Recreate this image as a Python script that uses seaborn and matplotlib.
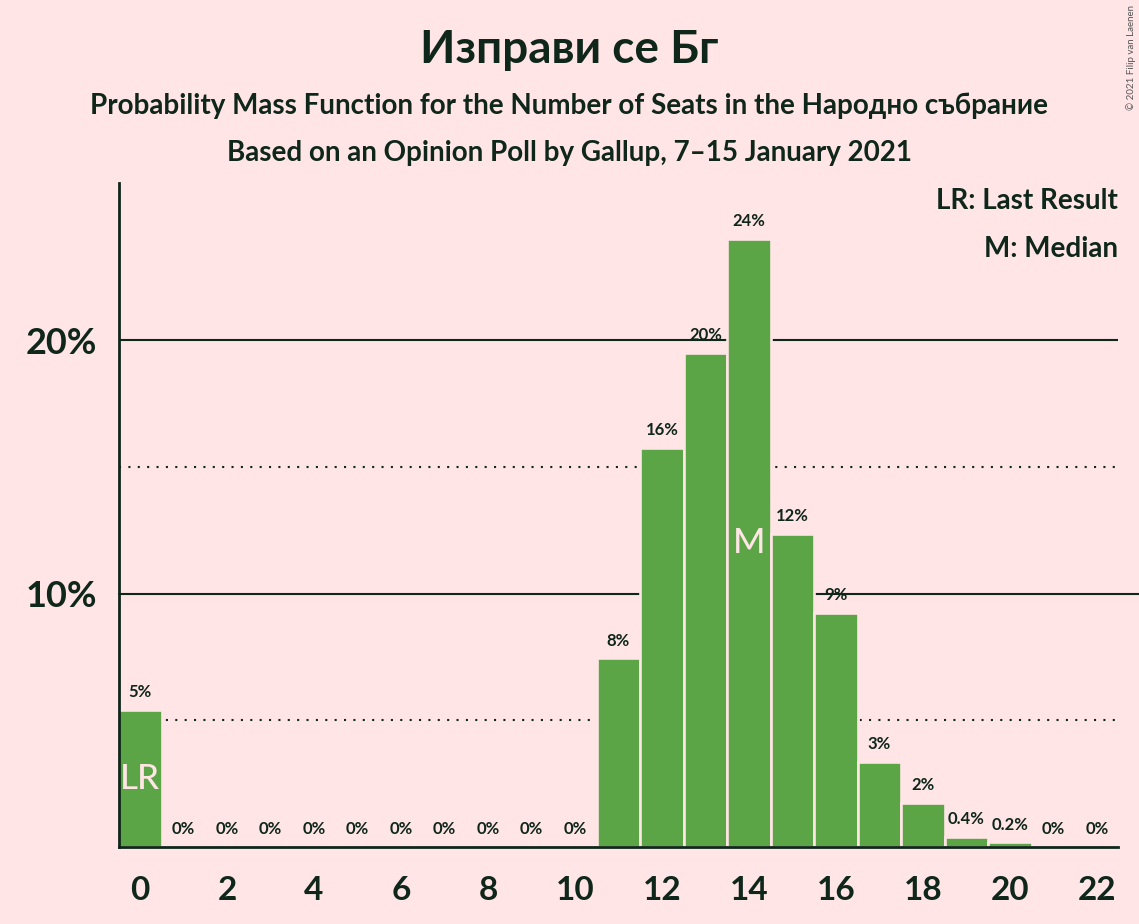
import numpy as np
import pandas as pd
import matplotlib
matplotlib.use("Agg")
import matplotlib.pyplot as plt
import seaborn as sns

# Seat distribution
seats = list(range(0, 23))
probability = [5.4, 0, 0, 0, 0, 0, 0, 0, 0, 0, 0,
               7.45, 15.75, 19.5, 24.0, 12.35, 9.25, 3.35, 1.75, 0.4, 0.18, 0, 0]
bar_labels = ["5%", "0%", "0%", "0%", "0%", "0%", "0%", "0%", "0%", "0%", "0%",
              "8%", "16%", "20%", "24%", "12%", "9%", "3%", "2%", "0.4%", "0.2%", "0%", "0%"]
last_result = 0
median = 14

title = "Изправи се Бг"
subtitle1 = "Probability Mass Function for the Number of Seats in the Народно събрание"
subtitle2 = "Based on an Opinion Poll by Gallup, 7–15 January 2021"

bg = "#FFE5E5"
green = "#5BA547"
dark = "#0F261A"

sns.set_style("white")
plt.rcParams['font.family'] = ['Lato', 'DejaVu Sans']

df = pd.DataFrame({'seats': seats, 'probability': probability})

fig = plt.figure(figsize=(11.39, 9.24), dpi=100, facecolor=bg)
ax = fig.add_axes([0.1045, 0.0833, 0.877, 0.7186])
ax.set_facecolor(bg)

# grid lines (behind the bars)
ax.axhline(10, color=dark, lw=1.5, zorder=0, xmax=1.021, clip_on=False)
ax.axhline(20, color=dark, lw=1.5, zorder=0)
for y in [5, 15]:
    ax.axhline(y, color=dark, lw=1.5, ls=(0, (1, 3.5)), zorder=0)

# full-width bars with a thick background-coloured edge, so the gaps hide the grid
sns.barplot(data=df, x='seats', y='probability', color=green, saturation=1,
            width=1.0, edgecolor=bg, linewidth=1.9, ax=ax, zorder=2)

ax.bar_label(ax.containers[0], labels=bar_labels, padding=7, fontsize=12,
             fontweight='bold', color=dark)

ax.text(last_result, probability[last_result] / 2, "LR", ha='center', va='center',
        fontsize=25, fontweight='medium', color=bg, zorder=3)
ax.text(median, probability[median] / 2, "M", ha='center', va='center',
        fontsize=25, fontweight='medium', color=bg, zorder=3)

ax.set_xlim(-0.48, 22.48)
ax.set_ylim(0, 26.2)
ax.set_xticks(range(0, 23, 2))
ax.set_xticklabels([str(s) for s in range(0, 23, 2)])
ax.set_yticks([10, 20])
ax.set_yticklabels(["10%", "20%"])
ax.tick_params(axis='x', labelsize=24, length=0, pad=21, colors=dark)
ax.tick_params(axis='y', labelsize=26, length=0, pad=16, colors=dark)
for lab in ax.get_xticklabels() + ax.get_yticklabels():
    lab.set_fontweight('bold')
ax.set_xlabel("")
ax.set_ylabel("")

for side in ['top', 'right']:
    ax.spines[side].set_visible(False)
for side in ['left', 'bottom']:
    ax.spines[side].set_color(dark)
    ax.spines[side].set_linewidth(2)
    ax.spines[side].set_zorder(4)

# titles
fig.text(0.5, 0.946, title, ha='center', va='center', fontsize=33,
         fontweight='bold', color=dark)
fig.text(0.5, 0.886, subtitle1, ha='center', va='center', fontsize=20,
         fontweight='bold', color=dark)
fig.text(0.5, 0.834, subtitle2, ha='center', va='center', fontsize=20,
         fontweight='bold', color=dark)

# legend text
fig.text(0.9815, 0.783, "LR: Last Result", ha='right', va='center', fontsize=20,
         fontweight='bold', color=dark)
fig.text(0.9815, 0.731, "M: Median", ha='right', va='center', fontsize=20,
         fontweight='bold', color=dark)

fig.text(0.993, 0.995, "© 2021 Filip van Laenen", ha='center', va='top',
         rotation=90, fontsize=7, color='#555555')

fig.savefig("out.png", dpi=100, facecolor=bg)
